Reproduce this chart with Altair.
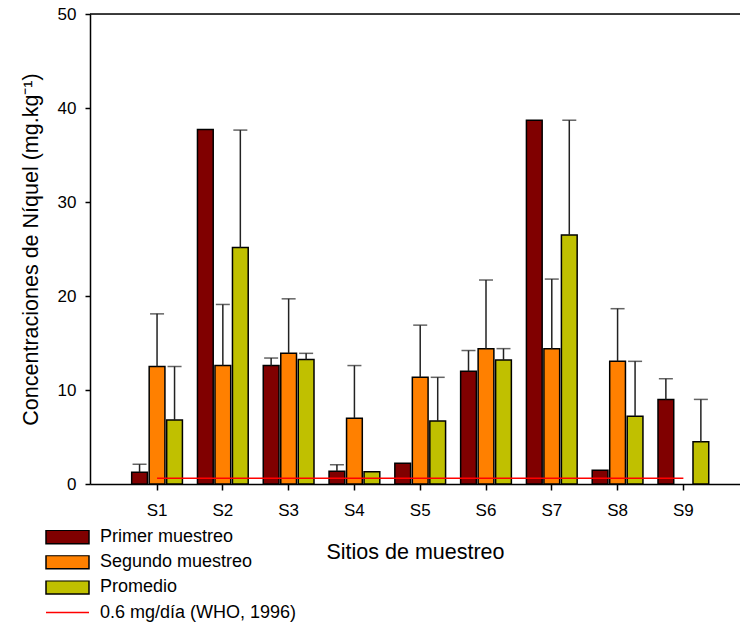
import altair as alt
import pandas as pd

# ---- data ----
sites = ["S1", "S2", "S3", "S4", "S5", "S6", "S7", "S8", "S9"]
series = ["Primer muestreo", "Segundo muestreo", "Promedio"]
who_label = "0.6 mg/día (WHO, 1996)"

primer = [1.25, 37.7, 12.6, 1.35, 2.2, 12.0, 38.7, 1.45, 9.0]
primer_err = [0.85, 0, 0.8, 0.7, 0, 2.2, 0, 0, 2.2]
segundo = [12.5, 12.6, 13.9, 7.0, 11.35, 14.4, 14.4, 13.05, None]
segundo_err = [5.6, 6.5, 5.8, 5.6, 5.55, 7.3, 7.4, 5.6, None]
promedio = [6.8, 25.15, 13.25, 1.3, 6.7, 13.2, 26.5, 7.2, 4.5]
promedio_err = [5.7, 12.5, 0.65, 0, 4.65, 1.2, 12.2, 5.85, 4.5]
who_limit = 0.6
y_ticks = [0, 10, 20, 30, 40, 50]

colors = ["#800000", "#FF8000", "#C0C000"]
who_color = "#FF0000"

rows = []
for name, vals, errs in [(series[0], primer, primer_err),
                         (series[1], segundo, segundo_err),
                         (series[2], promedio, promedio_err)]:
    for s, v, e in zip(sites, vals, errs):
        if v is None:
            continue
        rows.append({"site": s, "serie": name, "value": v, "err": e, "upper": v + e})
df = pd.DataFrame(rows)
df_err = df[df["err"] > 0]
df_line = pd.DataFrame({"site": sites, "limit": [who_limit] * len(sites),
                        "ref": [who_label] * len(sites)})
df_top = pd.DataFrame({"top": [y_ticks[-1]]})

FONT = "Liberation Sans"

x_enc = alt.X(
    "site:N",
    sort=sites,
    scale=alt.Scale(domain=sites, paddingInner=0, paddingOuter=0.44, align=0.59),
    axis=alt.Axis(
        title="Sitios de muestreo", labelAngle=0, labelFontSize=17, titleFontSize=21.5,
        titleFontWeight="normal", labelPadding=12, titlePadding=23, tickSize=6,
        domainColor="black", domainWidth=1.5, tickColor="black", tickWidth=1.5,
        labelColor="black", titleColor="black", labelFont=FONT, titleFont=FONT,
    ),
)
xoff_enc = alt.XOffset(
    "serie:N", sort=series,
    scale=alt.Scale(domain=series, paddingInner=0.1, paddingOuter=0.43),
)
y_scale = alt.Scale(domain=[0, 50], nice=False)
y_axis = alt.Axis(
    title="Concentraciones de Níquel (mg.kg⁻¹)", values=y_ticks, grid=False,
    labelFontSize=17, titleFontSize=21.5, titleFontWeight="normal", tickSize=5,
    labelPadding=9, titlePadding=15, domainColor="black", domainWidth=1.5,
    tickColor="black", tickWidth=1.5, labelColor="black", titleColor="black",
    labelFont=FONT, titleFont=FONT,
)

rect_path = "M-1,-0.31H1V0.31H-1Z"
line_path = "M-1,0H1"

bar_legend = alt.Legend(
    title=None, orient="none", legendX=-45, legendY=516,
    labelFontSize=18, labelFont=FONT, labelColor="black", labelLimit=300,
    symbolType=rect_path, symbolSize=1849, symbolStrokeWidth=1.5,
    symbolStrokeColor="black", symbolOpacity=1, clipHeight=14, rowPadding=7.2,
    labelOffset=10, padding=0,
)
line_legend = alt.Legend(
    title=None, orient="none", legendX=-45, legendY=591.5,
    labelFontSize=18, labelFont=FONT, labelColor="black", labelLimit=300,
    symbolType=line_path, symbolSize=1849, symbolStrokeWidth=1.5,
    clipHeight=14, labelOffset=10, padding=0,
)

bars = alt.Chart(df).mark_bar(stroke="black", strokeWidth=1.5, opacity=1).encode(
    x=x_enc,
    xOffset=xoff_enc,
    y=alt.Y("value:Q", scale=y_scale, axis=y_axis),
    fill=alt.Fill("serie:N", sort=series,
                  scale=alt.Scale(domain=series, range=colors), legend=bar_legend),
)

err_rule = alt.Chart(df_err).mark_rule(color="#222222", strokeWidth=1.5).encode(
    x=alt.X("site:N", sort=sites),
    xOffset=xoff_enc,
    y="value:Q",
    y2="upper:Q",
)
err_cap = alt.Chart(df_err).mark_tick(color="#222222", thickness=1.5, size=14,
                                      orient="horizontal").encode(
    x=alt.X("site:N", sort=sites),
    xOffset=xoff_enc,
    y="upper:Q",
)

who_line = alt.Chart(df_line).mark_line(strokeWidth=1.5).encode(
    x=alt.X("site:N", sort=sites),
    y="limit:Q",
    stroke=alt.Stroke("ref:N", scale=alt.Scale(domain=[who_label], range=[who_color]),
                      legend=line_legend),
)

top_rule = alt.Chart(df_top).mark_rule(color="black", strokeWidth=1.5).encode(
    y="top:Q",
)

chart = alt.layer(bars, err_rule, err_cap, who_line, top_rule).properties(
    width=650, height=470,
    autosize=alt.AutoSizeParams(type="none"),
    padding={"left": 90, "top": 14, "right": 0, "bottom": 141},
    background="white",
).resolve_scale(fill="independent", stroke="independent").configure_view(
    stroke=None
).configure(font=FONT)

chart.save("out.html", embed_options={"renderer": "svg", "actions": False})
